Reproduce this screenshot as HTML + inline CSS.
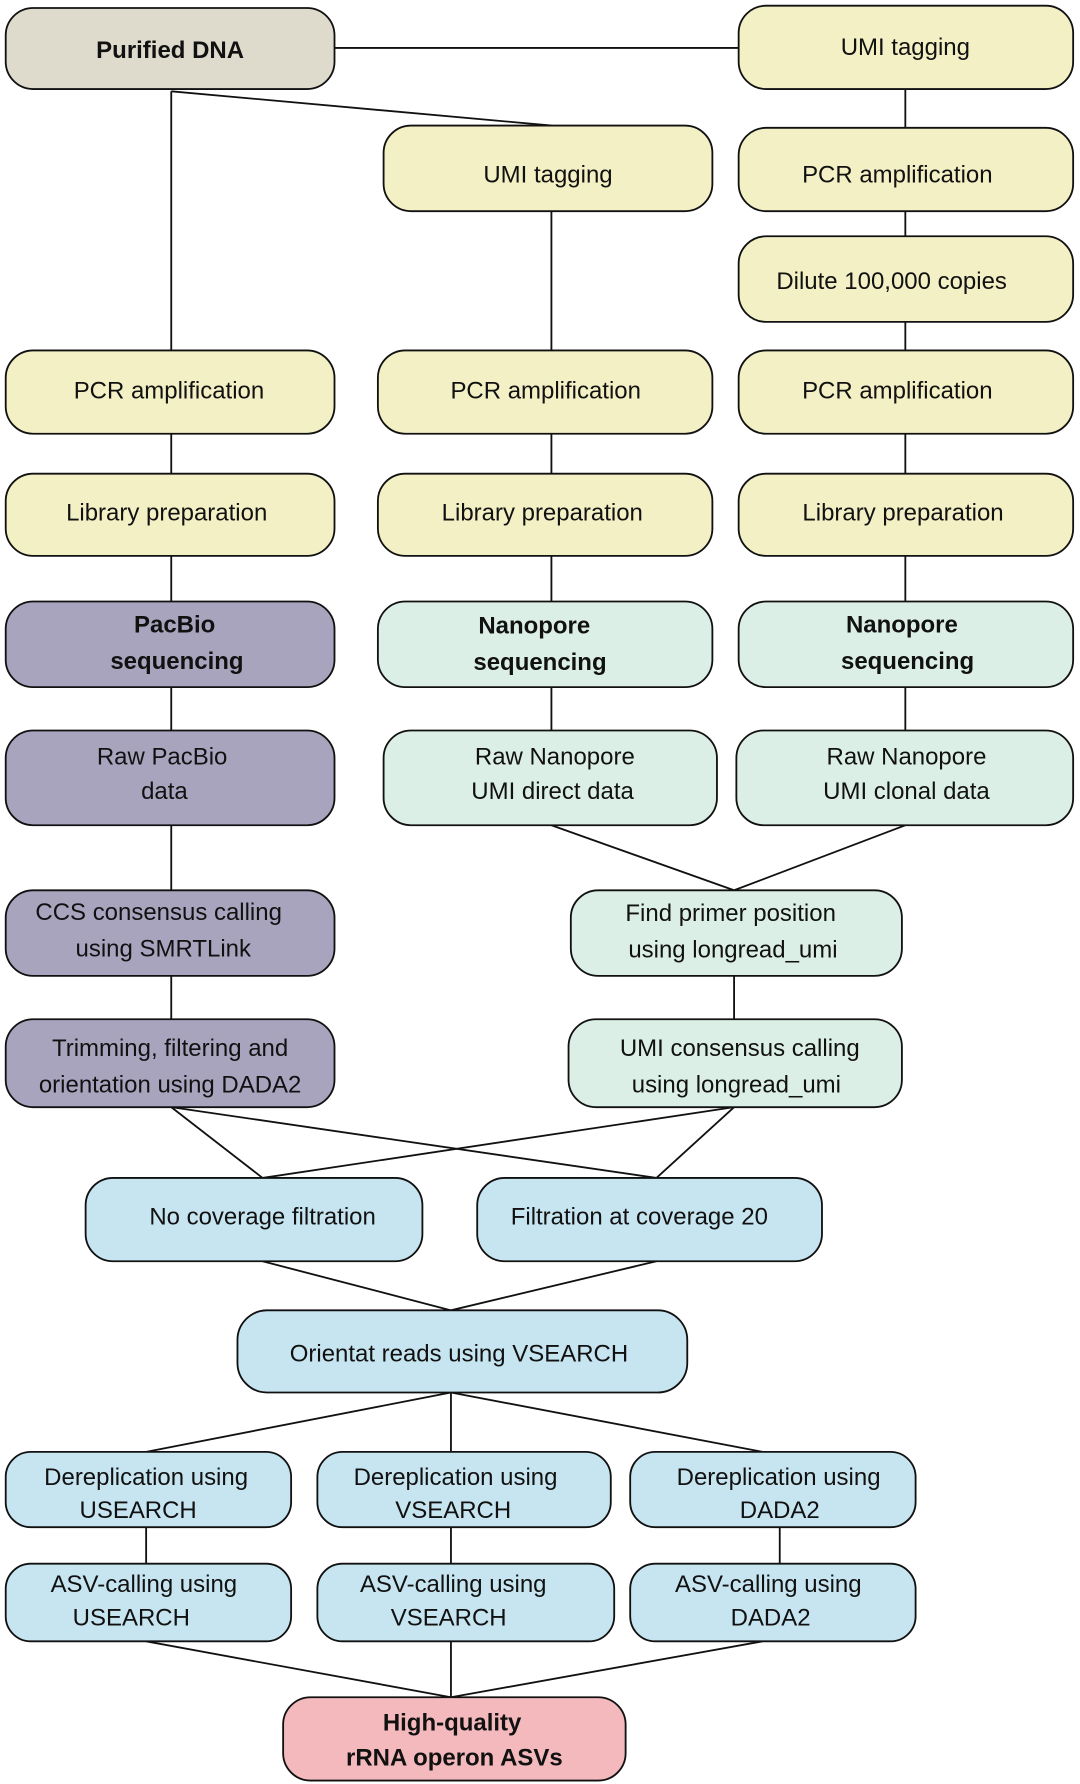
<!DOCTYPE html>
<html><head><meta charset="utf-8"><style>
html,body{margin:0;padding:0;background:#fff;}
svg{display:block;}
text{font-family:"Liberation Sans",Arial,sans-serif;font-size:21px;fill:#111;text-anchor:middle;}
.b{font-weight:bold;}
rect{stroke:#111;stroke-width:1.6;}
line{stroke:#111;stroke-width:1.6;}
.y{fill:#f2f0c4;} .g{fill:#dedbcc;} .p{fill:#a9a4be;} .m{fill:#dcefe6;} .c{fill:#c7e5f0;} .r{fill:#f4b9bd;}
</style></head><body>
<svg width="1080" height="1784" viewBox="0 0 946 1563" preserveAspectRatio="none">
<!-- connectors -->
<line x1="293" y1="42" x2="647" y2="42"/>
<line x1="150" y1="80" x2="150" y2="307"/>
<line x1="150" y1="80" x2="483" y2="110"/>
<line x1="483" y1="185" x2="483" y2="307"/>
<line x1="793" y1="78" x2="793" y2="112"/>
<line x1="793" y1="185" x2="793" y2="207"/>
<line x1="793" y1="282" x2="793" y2="307"/>
<line x1="150" y1="380" x2="150" y2="415"/>
<line x1="483" y1="380" x2="483" y2="415"/>
<line x1="793" y1="380" x2="793" y2="415"/>
<line x1="150" y1="487" x2="150" y2="527"/>
<line x1="483" y1="487" x2="483" y2="527"/>
<line x1="793" y1="487" x2="793" y2="527"/>
<line x1="150" y1="602" x2="150" y2="640"/>
<line x1="483" y1="602" x2="483" y2="640"/>
<line x1="793" y1="602" x2="793" y2="640"/>
<line x1="483" y1="723" x2="643" y2="780"/>
<line x1="793" y1="723" x2="643" y2="780"/>
<line x1="150" y1="723" x2="150" y2="780"/>
<line x1="150" y1="855" x2="150" y2="893"/>
<line x1="643" y1="855" x2="643" y2="893"/>
<line x1="150" y1="970" x2="230" y2="1032"/>
<line x1="150" y1="970" x2="575" y2="1032"/>
<line x1="643" y1="970" x2="230" y2="1032"/>
<line x1="643" y1="970" x2="575" y2="1032"/>
<line x1="230" y1="1105" x2="395" y2="1148"/>
<line x1="575" y1="1105" x2="395" y2="1148"/>
<line x1="395" y1="1220" x2="128" y2="1272"/>
<line x1="395" y1="1220" x2="395" y2="1272"/>
<line x1="395" y1="1220" x2="668" y2="1272"/>
<line x1="128" y1="1338" x2="128" y2="1370"/>
<line x1="395" y1="1338" x2="395" y2="1370"/>
<line x1="683" y1="1338" x2="683" y2="1370"/>
<line x1="128" y1="1438" x2="395" y2="1487"/>
<line x1="395" y1="1438" x2="395" y2="1487"/>
<line x1="668" y1="1438" x2="395" y2="1487"/>
<!-- nodes -->
<rect class="g" x="5" y="7" width="288" height="71" rx="24"/><text class="b" x="149" y="51">Purified DNA</text>
<rect class="y" x="647" y="5" width="293" height="73" rx="24"/><text x="793" y="48">UMI tagging</text>
<rect class="y" x="336" y="110" width="288" height="75" rx="24"/><text x="480" y="160">UMI tagging</text>
<rect class="y" x="647" y="112" width="293" height="73" rx="24"/><text x="786" y="160">PCR amplification</text>
<rect class="y" x="647" y="207" width="293" height="75" rx="24"/><text x="781" y="253">Dilute 100,000 copies</text>
<rect class="y" x="5" y="307" width="288" height="73" rx="24"/><text x="148" y="349">PCR amplification</text>
<rect class="y" x="331" y="307" width="293" height="73" rx="24"/><text x="478" y="349">PCR amplification</text>
<rect class="y" x="647" y="307" width="293" height="73" rx="24"/><text x="786" y="349">PCR amplification</text>
<rect class="y" x="5" y="415" width="288" height="72" rx="24"/><text x="146" y="456">Library preparation</text>
<rect class="y" x="331" y="415" width="293" height="72" rx="24"/><text x="475" y="456">Library preparation</text>
<rect class="y" x="647" y="415" width="293" height="72" rx="24"/><text x="791" y="456">Library preparation</text>
<rect class="p" x="5" y="527" width="288" height="75" rx="24"/><text class="b" x="153" y="554">PacBio</text><text class="b" x="155" y="586">sequencing</text>
<rect class="m" x="331" y="527" width="293" height="75" rx="24"/><text class="b" x="468" y="555">Nanopore</text><text class="b" x="473" y="587">sequencing</text>
<rect class="m" x="647" y="527" width="293" height="75" rx="24"/><text class="b" x="790" y="554">Nanopore</text><text class="b" x="795" y="586">sequencing</text>
<rect class="p" x="5" y="640" width="288" height="83" rx="24"/><text x="142" y="670">Raw PacBio</text><text x="144" y="700">data</text>
<rect class="m" x="336" y="640" width="292" height="83" rx="24"/><text x="486" y="670">Raw Nanopore</text><text x="484" y="700">UMI direct data</text>
<rect class="m" x="645" y="640" width="295" height="83" rx="24"/><text x="794" y="670">Raw Nanopore</text><text x="794" y="700">UMI clonal data</text>
<rect class="p" x="5" y="780" width="288" height="75" rx="24"/><text x="139" y="806">CCS consensus calling</text><text x="143" y="838">using SMRTLink</text>
<rect class="m" x="500" y="780" width="290" height="75" rx="24"/><text x="640" y="807">Find primer position</text><text x="642" y="839">using longread_umi</text>
<rect class="p" x="5" y="893" width="288" height="77" rx="24"/><text x="149" y="925">Trimming, filtering and</text><text x="149" y="957">orientation using DADA2</text>
<rect class="m" x="498" y="893" width="292" height="77" rx="24"/><text x="648" y="925">UMI consensus calling</text><text x="645" y="957">using longread_umi</text>
<rect class="c" x="75" y="1032" width="295" height="73" rx="24"/><text x="230" y="1073">No coverage filtration</text>
<rect class="c" x="418" y="1032" width="302" height="73" rx="24"/><text x="560" y="1073">Filtration at coverage 20</text>
<rect class="c" x="208" y="1148" width="394" height="72" rx="26"/><text x="402" y="1193">Orientat reads using VSEARCH</text>
<rect class="c" x="5" y="1272" width="250" height="66" rx="22"/><text x="128" y="1301">Dereplication using</text><text x="121" y="1330">USEARCH</text>
<rect class="c" x="278" y="1272" width="257" height="66" rx="22"/><text x="399" y="1301">Dereplication using</text><text x="397" y="1330">VSEARCH</text>
<rect class="c" x="552" y="1272" width="250" height="66" rx="22"/><text x="682" y="1301">Dereplication using</text><text x="683" y="1330">DADA2</text>
<rect class="c" x="5" y="1370" width="250" height="68" rx="22"/><text x="126" y="1395">ASV-calling using</text><text x="115" y="1424">USEARCH</text>
<rect class="c" x="278" y="1370" width="260" height="68" rx="22"/><text x="397" y="1395">ASV-calling using</text><text x="393" y="1424">VSEARCH</text>
<rect class="c" x="552" y="1370" width="250" height="68" rx="22"/><text x="673" y="1395">ASV-calling using</text><text x="675" y="1424">DADA2</text>
<rect class="r" x="248" y="1487" width="300" height="73" rx="24"/><text class="b" x="396" y="1516">High-quality</text><text class="b" x="398" y="1547">rRNA operon ASVs</text>
</svg>
</body></html>
